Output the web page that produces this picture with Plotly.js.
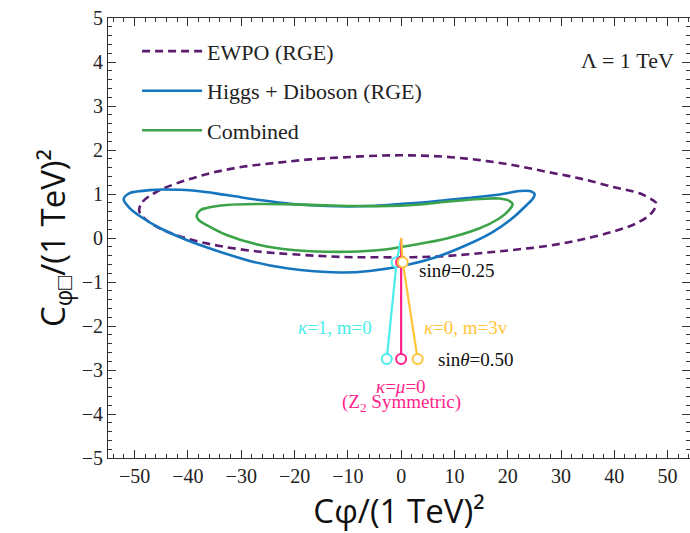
<!DOCTYPE html>
<html>
<head>
<meta charset="utf-8">
<script src="https://cdn.plot.ly/plotly-3.0.1.min.js"></script>
<style>html,body{margin:0;padding:0;background:#fff;}#chart{width:690px;height:533px;}</style>
</head>
<body>
<div id="chart"></div>
<script>
// EWPO (RGE) contour
const ewpoX = [-49.16,-48.50,-45.87,-42.12,-35.93,-29.74,-23.36,-17.17,-10.98,-4.03,2.16,8.54,14.73,20.92,27.30,33.49,39.68,44.75,47.19,47.88,46.94,44.13,39.68,33.49,27.30,20.92,14.73,8.54,2.16,-4.03,-10.98,-20.36,-26.55,-34.05,-40.24,-45.29,-48.50,-49.16];
const ewpoY = [0.636,0.824,1.051,1.242,1.468,1.618,1.709,1.786,1.832,1.872,1.877,1.845,1.770,1.657,1.505,1.355,1.164,1.015,0.862,0.788,0.561,0.333,0.143,-0.045,-0.182,-0.272,-0.347,-0.409,-0.438,-0.438,-0.431,-0.370,-0.311,-0.182,-0.007,0.220,0.483,0.636];

// Higgs + Diboson (RGE) contour
const hdX = [-52.06,-50.94,-49.62,-47.19,-44.75,-39.12,-32.74,-26.55,-20.36,-13.98,-5.91,-0.28,5.91,12.29,18.48,22.23,24.11,25.05,24.67,23.55,20.92,17.17,12.29,6.66,1.03,-5.91,-11.54,-21.48,-27.86,-34.05,-40.24,-45.29,-48.48,-50.94,-52.06];
const hdY = [0.885,1.021,1.055,1.089,1.101,1.078,0.976,0.862,0.772,0.726,0.726,0.772,0.828,0.908,0.987,1.067,1.067,0.999,0.885,0.749,0.454,0.136,-0.159,-0.431,-0.613,-0.749,-0.783,-0.688,-0.538,-0.311,-0.045,0.227,0.454,0.681,0.885];

// Combined contour
const combX = [-38.37,-37.62,-36.49,-32.74,-26.55,-20.36,-13.98,-7.79,-2.16,2.16,8.54,14.73,18.48,20.36,20.92,19.98,17.92,14.73,8.54,2.16,-4.03,-9.66,-13.98,-20.36,-26.55,-32.74,-36.49,-37.99,-38.37];
const combY = [0.499,0.636,0.681,0.749,0.772,0.765,0.742,0.726,0.726,0.749,0.824,0.885,0.897,0.840,0.772,0.601,0.409,0.220,-0.011,-0.159,-0.272,-0.311,-0.311,-0.272,-0.159,0.068,0.295,0.409,0.499];

// Benchmark model trajectories at sin(theta) = 0, 0.25, 0.50
const sinTheta = [0, 0.25, 0.50];
const k1m0X = [0, -0.85, -2.7];
const k1m0Y = [0, -0.55, -2.75];
const z2X = [0, 0.0, 0.0];
const z2Y = [0, -0.55, -2.75];
const k0m3vX = [0, 0.3, 3.1];
const k0m3vY = [0, -0.55, -2.75];

const xTickVals = [-50,-40,-30,-20,-10,0,10,20,30,40,50];
const yTickVals = [-5,-4,-3,-2,-1,0,1,2,3,4,5];

const PURPLE = '#5B1C70', BLUE = '#1576BF', GREEN = '#3CA348';
const CYAN = '#4BEDEA', PINK = '#FF1F8A', GOLD = '#FFC53A';
const SERIF = 'Liberation Serif';
const SANS = 'Open Sans';

function contour(x, y, name, color, dash, group) {
  return {x: x, y: y, name: name, type: 'scatter', mode: 'lines',
    line: {color: color, width: 2.6, dash: dash, shape: 'spline', smoothing: 1},
    legendgroup: group, hoverinfo: 'skip'};
}
function path(x, y, color) {
  return {x: x, y: y, type: 'scatter', mode: 'lines', line: {color: color, width: 2.2},
     showlegend: false, hoverinfo: 'skip'};
}
function dots(x, y, color) {
  return {x: x.slice(1), y: y.slice(1), type: 'scatter', mode: 'markers',
    marker: {symbol: 'circle', size: 10, color: '#ffffff', line: {color: color, width: 2}},
    showlegend: false, hoverinfo: 'skip'};
}

const data = [
  contour(ewpoX, ewpoY, 'EWPO (RGE)', PURPLE, '8px,5px', 'a'),
  contour(hdX, hdY, 'Higgs + Diboson (RGE)', BLUE, 'solid', 'b'),
  contour(combX, combY, 'Combined', GREEN, 'solid', 'c'),
  path(k1m0X, k1m0Y, CYAN),
  path(z2X, z2Y, PINK),
  path(k0m3vX, k0m3vY, GOLD),
  dots(k1m0X, k1m0Y, CYAN),
  dots(z2X, z2Y, PINK),
  dots(k0m3vX, k0m3vY, GOLD)
];

const axisCommon = {
  showline: true, linecolor: '#333', linewidth: 1, mirror: 'allticks',
  ticks: 'inside', ticklen: 8, tickwidth: 1, tickcolor: '#333',
  showgrid: false, zeroline: false,
  tickfont: {family: SERIF, size: 20, color: '#222'},
};

const layout = {
  width: 690, height: 533,
  margin: {l: 108, r: 0, t: 18, b: 75, pad: 0},
  paper_bgcolor: '#fff', plot_bgcolor: '#fff',
  showlegend: true,
  legend: {x: 0.05, y: 0.972, xanchor: 'left', yanchor: 'top', bgcolor: 'rgba(0,0,0,0)',
           font: {family: SERIF, size: 22, color: '#222'}, tracegroupgap: 8, itemwidth: 60},
  xaxis: Object.assign({}, axisCommon, {
    range: [-55, 54.2], tickmode: 'array', tickvals: xTickVals,
    minor: {dtick: 2, ticks: 'inside', ticklen: 4, tickcolor: '#333'},
    title: {text: 'Cφ/(1 TeV)²', font: {family: SANS, size: 33, color: '#111'}, standoff: 14}
  }),
  yaxis: Object.assign({}, axisCommon, {
    range: [-5, 5], tickmode: 'array', tickvals: yTickVals,
    minor: {dtick: 0.2, ticks: 'inside', ticklen: 4, tickcolor: '#333'},
    title: {text: 'C<sub>φ□</sub>/(1 TeV)²', font: {family: SANS, size: 33, color: '#111'}, standoff: 6}
  }),
  annotations: [
    {x: 0.976, y: 0.904, xref: 'paper', yref: 'paper', xanchor: 'right', yanchor: 'middle',
     text: 'Λ = 1 TeV', showarrow: false, font: {family: SERIF, size: 22, color: '#222'}},
    {x: 2.9, y: -0.73, xanchor: 'left', yanchor: 'middle', text: 'sin<i>θ</i>=0.25', showarrow: false,
     font: {family: SERIF, size: 19, color: '#111'}},
    {x: 6.6, y: -2.77, xanchor: 'left', yanchor: 'middle', text: 'sin<i>θ</i>=0.50', showarrow: false,
     font: {family: SERIF, size: 19, color: '#111'}},
    {x: -5.0, y: -2.04, xanchor: 'right', yanchor: 'middle', text: '<i>κ</i>=1, m=0', showarrow: false,
     font: {family: SERIF, size: 19, color: CYAN}},
    {x: 4.0, y: -2.04, xanchor: 'left', yanchor: 'middle', text: '<i>κ</i>=0, m=3v', showarrow: false,
     font: {family: SERIF, size: 19, color: GOLD}},
    {x: 0.0, y: -3.37, xanchor: 'center', yanchor: 'middle', text: '<i>κ</i>=<i>μ</i>=0', showarrow: false,
     font: {family: SERIF, size: 19, color: PINK}},
    {x: 0.1, y: -3.75, xanchor: 'center', yanchor: 'middle', text: '(Z<sub>2</sub> Symmetric)', showarrow: false,
     font: {family: SERIF, size: 19, color: PINK}}
  ]
};

Plotly.newPlot('chart', data, layout, {displayModeBar: false, staticPlot: true});
</script>
</body>
</html>
